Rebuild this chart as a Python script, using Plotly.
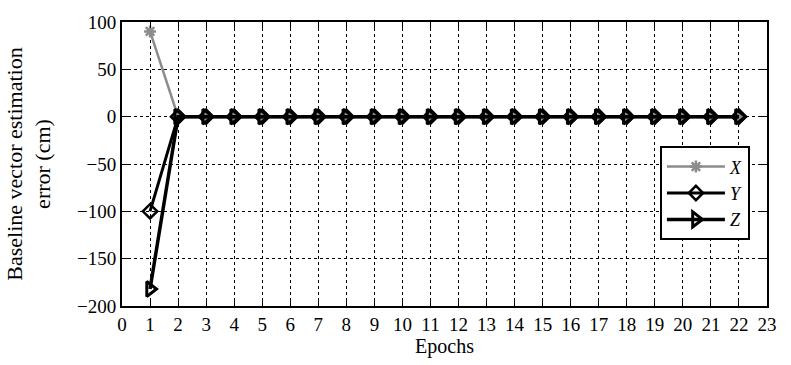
import plotly.graph_objects as go

epochs = list(range(1, 23))
x_err = [90] + [0]*21
y_err = [-100] + [0]*21
z_err = [-182] + [0]*21
x_ticks = list(range(0, 24))
y_ticks = [100, 50, 0, -50, -100, -150, -200]
y_tick_labels = ["100", "50", "0", "−50", "−100", "−150", "−200"]

font = "Times New Roman, Liberation Serif, DejaVu Serif, serif"
fig = go.Figure()
fig.add_trace(go.Scatter(x=epochs, y=x_err, name="<i>X</i>", mode="lines+markers",
                         line=dict(color="#8c8c8c", width=2.5),
                         marker=dict(symbol="asterisk-open", size=10, color="#8c8c8c",
                                     line=dict(width=2.5, color="#8c8c8c"))))
fig.add_trace(go.Scatter(x=epochs, y=y_err, name="<i>Y</i>", mode="lines+markers",
                         line=dict(color="black", width=3),
                         marker=dict(symbol="diamond-open", size=11, color="black",
                                     line=dict(width=2.5, color="black"))))
fig.add_trace(go.Scatter(x=epochs, y=z_err, name="<i>Z</i>", mode="lines+markers",
                         line=dict(color="black", width=3.5),
                         marker=dict(symbol="triangle-right-open", size=13, color="black",
                                     line=dict(width=3, color="black"))))

fig.update_layout(
    width=791, height=365,
    margin=dict(l=122, r=24, t=16, b=59),
    plot_bgcolor="white", paper_bgcolor="white",
    font=dict(family=font, size=19, color="black"),
    showlegend=True,
    legend=dict(x=0.834, y=0.562, xanchor="left", yanchor="top",
                bgcolor="white", bordercolor="black", borderwidth=2,
                font=dict(family=font, size=18), tracegroupgap=0,
                itemwidth=58),
    xaxis=dict(range=[0, 23], tickmode="array", tickvals=x_ticks,
               showgrid=True, gridcolor="black", griddash="dot", gridwidth=1,
               showline=True, linecolor="black", linewidth=2, mirror="ticks",
               ticks="inside", ticklen=6, tickcolor="black",
               tickfont=dict(family=font, size=19),
               title=dict(text="Epochs", standoff=4, font=dict(family=font, size=20)),
               zeroline=False),
    yaxis=dict(range=[-200, 100], tickmode="array", tickvals=y_ticks, ticktext=y_tick_labels,
               showgrid=True, gridcolor="black", griddash="dot", gridwidth=1,
               showline=True, linecolor="black", linewidth=2, mirror="ticks",
               ticks="inside", ticklen=6, tickcolor="black",
               tickfont=dict(family=font, size=19),
               title=dict(text="Baseline vector estimation<br>error (cm)", standoff=20,
                          font=dict(family=font, size=22)),
               zeroline=False),
)
fig.write_html("out.html")
